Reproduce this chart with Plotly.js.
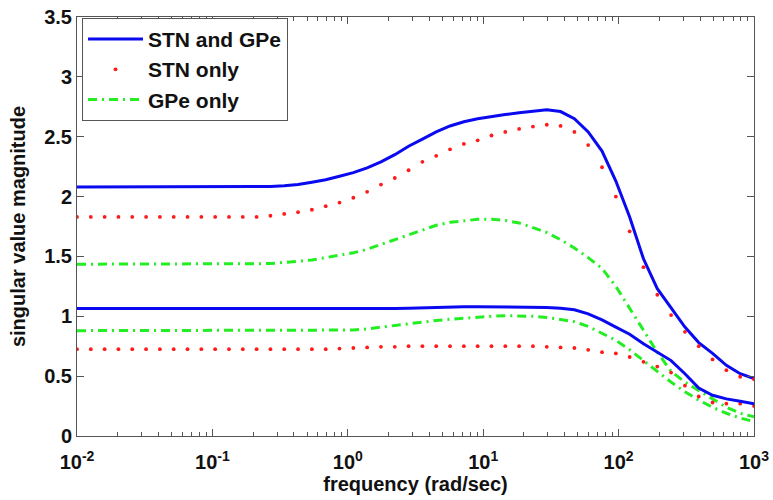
<!DOCTYPE html>
<html>
<head>
<meta charset="utf-8">
<script src="https://cdn.plot.ly/plotly-3.0.1.min.js"></script>
<style>html,body{margin:0;padding:0;background:#fff;}#chart{width:773px;height:500px;}</style>
</head>
<body>
<div id="chart"></div>
<script>
// frequency grid (rad/sec), 50 log-spaced samples from 1e-2 to 1e3
var freq = [0.01, 0.012649, 0.016, 0.020236, 0.025595, 0.032375, 0.04095, 0.051795, 0.065513, 0.082864,
  0.10481, 0.13257, 0.16768, 0.21210, 0.26827, 0.33932, 0.42919, 0.54287, 0.68665, 0.86851,
  1.0985, 1.3895, 1.7575, 2.2230, 2.8118, 3.5565, 4.4984, 5.6899, 7.1969, 9.1030,
  11.514, 14.563, 18.421, 23.300, 29.471, 37.276, 47.149, 59.636, 75.431, 95.410,
  120.68, 152.64, 193.07, 244.21, 308.89, 390.70, 494.17, 625.06, 790.60, 1000];

// STN and GPe (solid blue) - largest and smallest singular values
var bothUpper = [2.08, 2.08, 2.08, 2.08, 2.08, 2.08, 2.08, 2.08, 2.08, 2.08,
  2.08, 2.08, 2.08, 2.08, 2.085, 2.09, 2.10, 2.12, 2.14, 2.17,
  2.20, 2.24, 2.29, 2.35, 2.42, 2.48, 2.54, 2.59, 2.625, 2.65,
  2.67, 2.685, 2.70, 2.715, 2.725, 2.71, 2.65, 2.54, 2.38, 2.13,
  1.83, 1.48, 1.23, 1.07, 0.91, 0.78, 0.69, 0.59, 0.52, 0.48];
var bothLower = [1.065, 1.065, 1.065, 1.065, 1.065, 1.065, 1.065, 1.065, 1.065, 1.065,
  1.065, 1.065, 1.065, 1.065, 1.065, 1.065, 1.064, 1.063, 1.062, 1.061,
  1.06, 1.06, 1.061, 1.064, 1.068, 1.072, 1.076, 1.078, 1.08, 1.08,
  1.08, 1.08, 1.08, 1.078, 1.074, 1.068, 1.055, 1.02, 0.97, 0.91,
  0.85, 0.77, 0.70, 0.63, 0.52, 0.40, 0.34, 0.31, 0.29, 0.27];

// STN only (red dots)
var stnUpper = [1.83, 1.83, 1.83, 1.83, 1.83, 1.83, 1.83, 1.83, 1.83, 1.83,
  1.83, 1.83, 1.83, 1.83, 1.84, 1.855, 1.87, 1.89, 1.92, 1.95,
  1.99, 2.04, 2.10, 2.155, 2.22, 2.29, 2.34, 2.395, 2.44, 2.47,
  2.51, 2.54, 2.565, 2.585, 2.60, 2.59, 2.54, 2.43, 2.245, 2.00,
  1.71, 1.41, 1.18, 1.01, 0.87, 0.75, 0.64, 0.55, 0.495, 0.475];
var stnLower = [0.725, 0.725, 0.725, 0.725, 0.725, 0.725, 0.725, 0.725, 0.725, 0.725,
  0.725, 0.725, 0.725, 0.725, 0.725, 0.725, 0.725, 0.725, 0.725, 0.73,
  0.735, 0.74, 0.745, 0.745, 0.75, 0.75, 0.75, 0.75, 0.75, 0.75,
  0.75, 0.75, 0.75, 0.75, 0.745, 0.74, 0.735, 0.72, 0.70, 0.69,
  0.66, 0.62, 0.58, 0.53, 0.42, 0.33, 0.28, 0.27, 0.27, 0.25];

// GPe only (green dash-dot)
var gpeUpper = [1.435, 1.435, 1.435, 1.435, 1.435, 1.435, 1.435, 1.435, 1.435, 1.435,
  1.435, 1.435, 1.435, 1.435, 1.44, 1.45, 1.46, 1.47, 1.49, 1.51,
  1.53, 1.56, 1.60, 1.64, 1.68, 1.72, 1.76, 1.785, 1.80, 1.81,
  1.81, 1.80, 1.78, 1.74, 1.70, 1.64, 1.57, 1.49, 1.40, 1.25,
  1.07, 0.88, 0.70, 0.54, 0.45, 0.38, 0.31, 0.24, 0.19, 0.16];
var gpeLower = [0.88, 0.88, 0.88, 0.88, 0.88, 0.88, 0.88, 0.88, 0.88, 0.88,
  0.88, 0.88, 0.88, 0.88, 0.88, 0.88, 0.88, 0.88, 0.88, 0.88,
  0.885, 0.895, 0.91, 0.925, 0.94, 0.955, 0.965, 0.975, 0.985, 0.995,
  1.00, 1.005, 1.005, 1.00, 0.99, 0.975, 0.955, 0.915, 0.86, 0.80,
  0.72, 0.63, 0.54, 0.45, 0.37, 0.30, 0.24, 0.19, 0.15, 0.12];

var seriesNames = ['STN and GPe', 'STN only', 'GPe only'];
var xTickVals = [0.01, 0.1, 1, 10, 100, 1000];
var xTickText = ['10<sup>-2</sup>', '10<sup>-1</sup>', '10<sup>0</sup>', '10<sup>1</sup>', '10<sup>2</sup>', '10<sup>3</sup>'];

var BLUE = '#0a0af0', RED = '#ff1a1a', GREEN = '#22ee22';
var blueLine = {color: BLUE, width: 3};
var greenLine = {color: GREEN, width: 3, dash: '9px,5px,2px,5px'};
var redMarker = {color: RED, size: 3.8, symbol: 'circle'};

var traces = [
  {x: freq, y: bothUpper, mode: 'lines', name: seriesNames[0], legendgroup: 'a', line: blueLine},
  {x: freq, y: stnUpper, mode: 'markers', name: seriesNames[1], legendgroup: 'b', marker: redMarker},
  {x: freq, y: gpeUpper, mode: 'lines', name: seriesNames[2], legendgroup: 'c', line: greenLine},
  {x: freq, y: gpeLower, mode: 'lines', name: seriesNames[2], legendgroup: 'c', showlegend: false, line: greenLine},
  {x: freq, y: stnLower, mode: 'markers', name: seriesNames[1], legendgroup: 'b', showlegend: false, marker: redMarker},
  {x: freq, y: bothLower, mode: 'lines', name: seriesNames[0], legendgroup: 'a', showlegend: false, line: blueLine}
];

var minorVals = [];
[0.01, 0.1, 1, 10, 100].forEach(function (d) { for (var m = 2; m <= 9; m++) minorVals.push(m * d); });

var FONT = 'Liberation Sans, Arial, Helvetica, sans-serif';
var AX = '#555';
var layout = {
  width: 773, height: 500,
  margin: {l: 77, r: 19, t: 17, b: 64, pad: 0},
  paper_bgcolor: '#fff', plot_bgcolor: '#fff',
  showlegend: true,
  font: {family: FONT, color: '#111'},
  xaxis: {
    type: 'log', range: [-2, 3], autorange: false,
    tickmode: 'array', tickvals: xTickVals, ticktext: xTickText,
    ticks: 'inside', ticklen: 7, tickwidth: 1, tickcolor: AX,
    ticklabelstandoff: 8,
    showline: true, linecolor: AX, linewidth: 1, mirror: 'ticks',
    showgrid: false, zeroline: false,
    minor: {tickmode: 'array', tickvals: minorVals, ticks: 'inside', ticklen: 4, tickcolor: AX, showgrid: false},
    tickfont: {family: FONT, size: 20, weight: 'bold', color: '#111'},
    title: {text: 'frequency (rad/sec)', font: {family: FONT, size: 20, weight: 'bold', color: '#111'}, standoff: 2},
    automargin: false
  },
  yaxis: {
    range: [0, 3.5], autorange: false,
    tickmode: 'linear', tick0: 0, dtick: 0.5,
    ticks: 'inside', ticklen: 7, tickwidth: 1, tickcolor: AX,
    showline: true, linecolor: AX, linewidth: 1, mirror: 'ticks',
    showgrid: false, zeroline: false,
    tickfont: {family: FONT, size: 20, weight: 'bold', color: '#111'},
    title: {text: 'singular value magnitude', font: {family: FONT, size: 20, weight: 'bold', color: '#111'}, standoff: 13},
    automargin: false
  },
  legend: {
    x: 0.0074, y: 0.998, xanchor: 'left', yanchor: 'top',
    bgcolor: '#fff', bordercolor: AX, borderwidth: 1,
    font: {family: FONT, size: 21, weight: 'bold', color: '#111'},
    itemwidth: 55, tracegroupgap: 0
  }
};

Plotly.newPlot('chart', traces, layout, {displayModeBar: false, staticPlot: true});
</script>
</body>
</html>
